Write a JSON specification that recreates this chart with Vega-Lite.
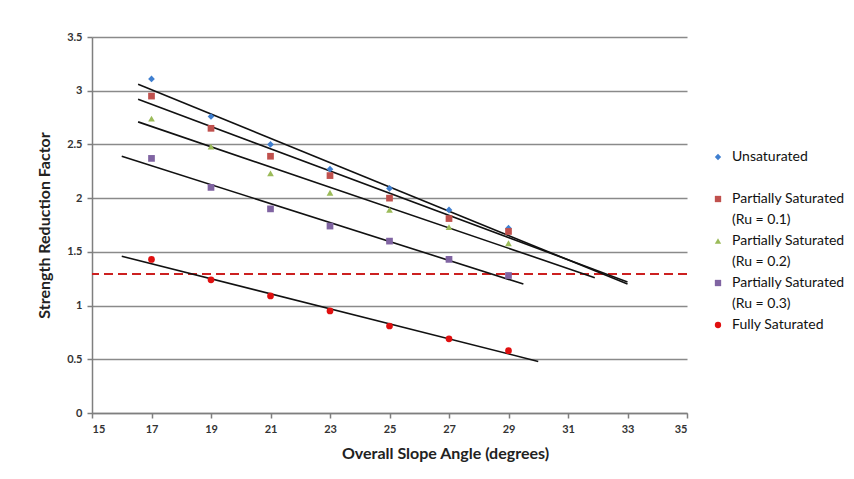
{
  "$schema": "https://vega.github.io/schema/vega-lite/v6.json",
  "autosize": "none",
  "width": 595,
  "height": 376,
  "padding": {"left": 92, "top": 37, "right": 167, "bottom": 66},
  "background": "white",
  "config": {
    "view": {"stroke": null},
    "font": "Lato",
    "style": {"guide-label": {"lineHeight": 21}},
    "axis": {
      "labelFont": "Lato", "labelFontSize": 11, "labelFontWeight": "bold", "labelColor": "#333333",
      "titleFont": "Lato", "titleFontSize": 16, "titleFontWeight": "bold", "titleColor": "#222222",
      "domainColor": "#7f7f7f", "domainWidth": 1.5, "tickColor": "#7f7f7f", "tickWidth": 1.5, "tickSize": 5,
      "gridColor": "#8a8a8a", "gridWidth": 1.5, "gridOpacity": 1
    },
    "legend": {"labelFont": "Lato", "labelFontSize": 14, "labelColor": "#111111"}
  },
  "datasets": {
    "points": [
      {"series": "Unsaturated", "angle": 17, "srf": 3.11},
      {"series": "Unsaturated", "angle": 19, "srf": 2.76},
      {"series": "Unsaturated", "angle": 21, "srf": 2.50},
      {"series": "Unsaturated", "angle": 23, "srf": 2.27},
      {"series": "Unsaturated", "angle": 25, "srf": 2.09},
      {"series": "Unsaturated", "angle": 27, "srf": 1.89},
      {"series": "Unsaturated", "angle": 29, "srf": 1.72},
      {"series": "Partially Saturated (Ru = 0.1)", "angle": 17, "srf": 2.95},
      {"series": "Partially Saturated (Ru = 0.1)", "angle": 19, "srf": 2.65},
      {"series": "Partially Saturated (Ru = 0.1)", "angle": 21, "srf": 2.39},
      {"series": "Partially Saturated (Ru = 0.1)", "angle": 23, "srf": 2.21},
      {"series": "Partially Saturated (Ru = 0.1)", "angle": 25, "srf": 2.00},
      {"series": "Partially Saturated (Ru = 0.1)", "angle": 27, "srf": 1.81},
      {"series": "Partially Saturated (Ru = 0.1)", "angle": 29, "srf": 1.69},
      {"series": "Partially Saturated (Ru = 0.2)", "angle": 17, "srf": 2.74},
      {"series": "Partially Saturated (Ru = 0.2)", "angle": 19, "srf": 2.48},
      {"series": "Partially Saturated (Ru = 0.2)", "angle": 21, "srf": 2.23},
      {"series": "Partially Saturated (Ru = 0.2)", "angle": 23, "srf": 2.05},
      {"series": "Partially Saturated (Ru = 0.2)", "angle": 25, "srf": 1.89},
      {"series": "Partially Saturated (Ru = 0.2)", "angle": 27, "srf": 1.73},
      {"series": "Partially Saturated (Ru = 0.2)", "angle": 29, "srf": 1.58},
      {"series": "Partially Saturated (Ru = 0.3)", "angle": 17, "srf": 2.37},
      {"series": "Partially Saturated (Ru = 0.3)", "angle": 19, "srf": 2.10},
      {"series": "Partially Saturated (Ru = 0.3)", "angle": 21, "srf": 1.90},
      {"series": "Partially Saturated (Ru = 0.3)", "angle": 23, "srf": 1.74},
      {"series": "Partially Saturated (Ru = 0.3)", "angle": 25, "srf": 1.60},
      {"series": "Partially Saturated (Ru = 0.3)", "angle": 27, "srf": 1.43},
      {"series": "Partially Saturated (Ru = 0.3)", "angle": 29, "srf": 1.28},
      {"series": "Fully Saturated", "angle": 17, "srf": 1.43},
      {"series": "Fully Saturated", "angle": 19, "srf": 1.24},
      {"series": "Fully Saturated", "angle": 21, "srf": 1.09},
      {"series": "Fully Saturated", "angle": 23, "srf": 0.95},
      {"series": "Fully Saturated", "angle": 25, "srf": 0.81},
      {"series": "Fully Saturated", "angle": 27, "srf": 0.69},
      {"series": "Fully Saturated", "angle": 29, "srf": 0.58}
    ],
    "trends": [
      {"series": "Unsaturated", "angle": 16.55, "srf": 3.06},
      {"series": "Unsaturated", "angle": 33.0, "srf": 1.20},
      {"series": "Partially Saturated (Ru = 0.1)", "angle": 16.55, "srf": 2.92},
      {"series": "Partially Saturated (Ru = 0.1)", "angle": 33.0, "srf": 1.22},
      {"series": "Partially Saturated (Ru = 0.2)", "angle": 16.55, "srf": 2.71},
      {"series": "Partially Saturated (Ru = 0.2)", "angle": 31.9, "srf": 1.26},
      {"series": "Partially Saturated (Ru = 0.3)", "angle": 16.0, "srf": 2.39},
      {"series": "Partially Saturated (Ru = 0.3)", "angle": 29.5, "srf": 1.20},
      {"series": "Fully Saturated", "angle": 16.0, "srf": 1.46},
      {"series": "Fully Saturated", "angle": 30.0, "srf": 0.48}
    ],
    "threshold": [{"srf": 1.295}]
  },
  "layer": [
    {
      "data": {"name": "threshold"},
      "mark": {"type": "rule", "color": "#cc2020", "strokeWidth": 2, "strokeDash": [9, 5]},
      "encoding": {
        "y": {"field": "srf", "type": "quantitative", "scale": {"domain": [0, 3.5], "nice": false},
          "axis": {"values": [0, 0.5, 1, 1.5, 2, 2.5, 3, 3.5], "format": "~g", "title": "Strength Reduction Factor", "titlePadding": 14, "labelPadding": 5, "grid": true}}
      }
    },
    {
      "data": {"name": "trends"},
      "mark": {"type": "line", "color": "#111111", "strokeWidth": 1.6},
      "encoding": {
        "x": {"field": "angle", "type": "quantitative", "scale": {"domain": [15, 35], "nice": false}},
        "y": {"field": "srf", "type": "quantitative"},
        "detail": {"field": "series"}
      }
    },
    {
      "data": {"name": "points"},
      "mark": {"type": "point", "filled": true, "opacity": 1, "strokeWidth": 1},
      "encoding": {
        "x": {"field": "angle", "type": "quantitative", "scale": {"domain": [15, 35], "nice": false},
          "axis": {"values": [15, 17, 19, 21, 23, 25, 27, 29, 31, 33, 35], "title": "Overall Slope Angle (degrees)", "grid": false, "labelPadding": 5, "titleX": 353, "titleY": 32}},
        "y": {"field": "srf", "type": "quantitative"},
        "color": {
          "field": "series", "type": "nominal",
          "sort": ["Unsaturated", "Partially Saturated (Ru = 0.1)", "Partially Saturated (Ru = 0.2)", "Partially Saturated (Ru = 0.3)", "Fully Saturated"],
          "scale": {
            "domain": ["Unsaturated", "Partially Saturated (Ru = 0.1)", "Partially Saturated (Ru = 0.2)", "Partially Saturated (Ru = 0.3)", "Fully Saturated"],
            "range": ["#3f7fd0", "#c0504d", "#9bbb59", "#8064a2", "#e01010"]
          },
          "legend": {
            "title": null, "orient": "none", "legendX": 619, "legendY": 113,
            "rowPadding": 7, "symbolSize": 40, "labelOffset": 7,
            "labelExpr": "indexof(datum.label, '(') > 0 ? [slice(datum.label, 0, 19), slice(datum.label, 20)] : [datum.label, ' ']"
          }
        },
        "shape": {
          "field": "series", "type": "nominal",
          "scale": {
            "domain": ["Unsaturated", "Partially Saturated (Ru = 0.1)", "Partially Saturated (Ru = 0.2)", "Partially Saturated (Ru = 0.3)", "Fully Saturated"],
            "range": ["diamond", "square", "triangle-up", "square", "circle"]
          },
          "legend": null
        },
        "size": {"value": 45}
      }
    }
  ]
}
